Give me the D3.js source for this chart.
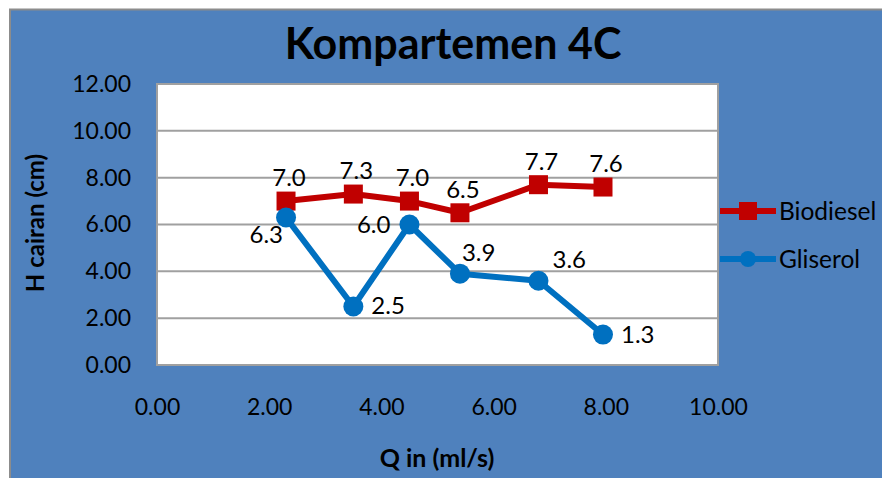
<!DOCTYPE html>
<html>
<head>
<meta charset="utf-8">
<script src="https://cdn.jsdelivr.net/npm/d3@7/dist/d3.min.js"></script>
<style>
  html, body { margin: 0; padding: 0; background: #ffffff; }
  svg { display: block; }
  text { font-family: Lato, "Open Sans", sans-serif; }
</style>
</head>
<body>
<svg id="chart" width="882" height="478"></svg>
<script>
// Flow rate into the compartment (ml/s)
const qIn = [2.3, 3.5, 4.5, 5.4, 6.8, 7.95];
// Liquid height per phase (cm)
const biodiesel = [7.0, 7.3, 7.0, 6.5, 7.7, 7.6];
const gliserol  = [6.3, 2.5, 6.0, 3.9, 3.6, 1.3];
const seriesNames = ["Biodiesel", "Gliserol"];
const xTicks = [0, 2, 4, 6, 8, 10];
const yTicks = [0, 2, 4, 6, 8, 10, 12];
// Where each value label sits relative to its point
const biodieselLabelPos = ["above", "above", "above", "above", "above", "above"];
const gliserolLabelPos  = ["leftBelow", "right", "left", "aboveNear", "aboveRight", "right"];

const svg = d3.select("#chart");
const W = 882, H = 478;
const plot = { left: 157, top: 84, right: 718, bottom: 365 };

const bg = "#4F81BD";
const red = "#C00000";
const blue = "#0070C0";

// chart background and frame
svg.append("rect").attr("x", 0).attr("y", 0).attr("width", W).attr("height", H).attr("fill", "#ffffff");
svg.append("rect").attr("x", 10).attr("y", 9.5).attr("width", W).attr("height", H)
  .attr("fill", bg).attr("stroke", "#8c8c8c").attr("stroke-width", 2);

const x = d3.scaleLinear().domain([0, 10]).range([plot.left, plot.right]);
const y = d3.scaleLinear().domain([0, 12]).range([plot.bottom, plot.top]);

// plot area
svg.append("rect")
  .attr("x", plot.left).attr("y", plot.top)
  .attr("width", plot.right - plot.left).attr("height", plot.bottom - plot.top)
  .attr("fill", "#ffffff");

// horizontal gridlines
svg.append("g").selectAll("line").data(yTicks).join("line")
  .attr("x1", plot.left).attr("x2", plot.right)
  .attr("y1", d => y(d)).attr("y2", d => y(d))
  .attr("stroke", "#a0a0a0").attr("stroke-width", 2);

// plot area border
svg.append("rect")
  .attr("x", plot.left).attr("y", plot.top)
  .attr("width", plot.right - plot.left).attr("height", plot.bottom - plot.top)
  .attr("fill", "none").attr("stroke", "#a0a0a0").attr("stroke-width", 2);

// axes (labels only)
const fmt = d3.format(".2f");
const yAxis = d3.axisLeft(y).tickValues(yTicks).tickFormat(fmt).tickSize(0).tickPadding(26);
const yg = svg.append("g").attr("transform", `translate(${plot.left},0)`).call(yAxis);
yg.select(".domain").remove();
yg.selectAll("text").attr("font-size", 23).attr("fill", "#000").attr("font-family", "Lato, sans-serif");

const xAxis = d3.axisBottom(x).tickValues(xTicks).tickFormat(fmt).tickSize(0).tickPadding(34);
const xg = svg.append("g").attr("transform", `translate(0,${plot.bottom})`).call(xAxis);
xg.select(".domain").remove();
xg.selectAll("text").attr("font-size", 23).attr("fill", "#000").attr("font-family", "Lato, sans-serif");

// titles
svg.append("text").attr("x", 453).attr("y", 59).attr("text-anchor", "middle")
  .attr("font-size", 43).attr("font-weight", "bold").attr("fill", "#000")
  .text("Kompartemen 4C");
svg.append("text").attr("x", 437).attr("y", 467).attr("text-anchor", "middle")
  .attr("font-size", 25).attr("font-weight", "bold").attr("fill", "#000")
  .text("Q in (ml/s)");
svg.append("text").attr("transform", "translate(44,223) rotate(-90)").attr("text-anchor", "middle")
  .attr("font-size", 24).attr("font-weight", "bold").attr("fill", "#000")
  .text("H cairan (cm)");

const line = d3.line().x(d => x(d[0])).y(d => y(d[1]));

const series = [
  { name: seriesNames[0], values: biodiesel, color: red, shape: "square", pos: biodieselLabelPos },
  { name: seriesNames[1], values: gliserol, color: blue, shape: "circle", pos: gliserolLabelPos }
];

series.forEach(s => {
  const pts = qIn.map((q, i) => [q, s.values[i]]);
  const g = svg.append("g");
  g.append("path").datum(pts).attr("d", line)
    .attr("fill", "none").attr("stroke", s.color).attr("stroke-width", 6)
    .attr("stroke-linejoin", "round");
  if (s.shape === "square") {
    g.selectAll("rect").data(pts).join("rect")
      .attr("x", d => x(d[0]) - 9.5).attr("y", d => y(d[1]) - 9.5)
      .attr("width", 19).attr("height", 19).attr("fill", s.color);
  } else {
    g.selectAll("circle").data(pts).join("circle")
      .attr("cx", d => x(d[0])).attr("cy", d => y(d[1])).attr("r", 10).attr("fill", s.color);
  }
});

// value labels
const labelOffset = {
  above:      { dx: 3,   dy: -15, anchor: "middle" },
  left:       { dx: -19, dy: 8,   anchor: "end" },
  leftBelow:  { dx: -3,  dy: 26,  anchor: "end" },
  right:      { dx: 18,  dy: 8,   anchor: "start" },
  aboveNear:  { dx: 2,   dy: -13, anchor: "start" },
  aboveRight: { dx: 14,  dy: -13, anchor: "start" }
};
series.forEach(s => {
  svg.append("g").selectAll("text").data(qIn.map((q, i) => ({ q, v: s.values[i], p: labelOffset[s.pos[i]] })))
    .join("text")
    .attr("x", d => x(d.q) + d.p.dx).attr("y", d => y(d.v) + d.p.dy)
    .attr("text-anchor", d => d.p.anchor)
    .attr("font-size", 24).attr("fill", "#000")
    .text(d => d3.format(".1f")(d.v));
});

// legend
const legend = svg.append("g").attr("transform", "translate(720,0)");
const legendRows = [
  { s: series[0], y: 211 },
  { s: series[1], y: 259 }
];
legendRows.forEach(r => {
  legend.append("line").attr("x1", 0).attr("x2", 56).attr("y1", r.y).attr("y2", r.y)
    .attr("stroke", r.s.color).attr("stroke-width", 6);
  if (r.s.shape === "square") {
    legend.append("rect").attr("x", 19).attr("y", r.y - 9).attr("width", 18).attr("height", 18).attr("fill", r.s.color);
  } else {
    legend.append("circle").attr("cx", 28).attr("cy", r.y).attr("r", 8).attr("fill", r.s.color);
  }
  legend.append("text").attr("x", 59).attr("y", r.y + 9).attr("font-size", 24.5).attr("fill", "#000")
    .text(r.s.name);
});
</script>
</body>
</html>
